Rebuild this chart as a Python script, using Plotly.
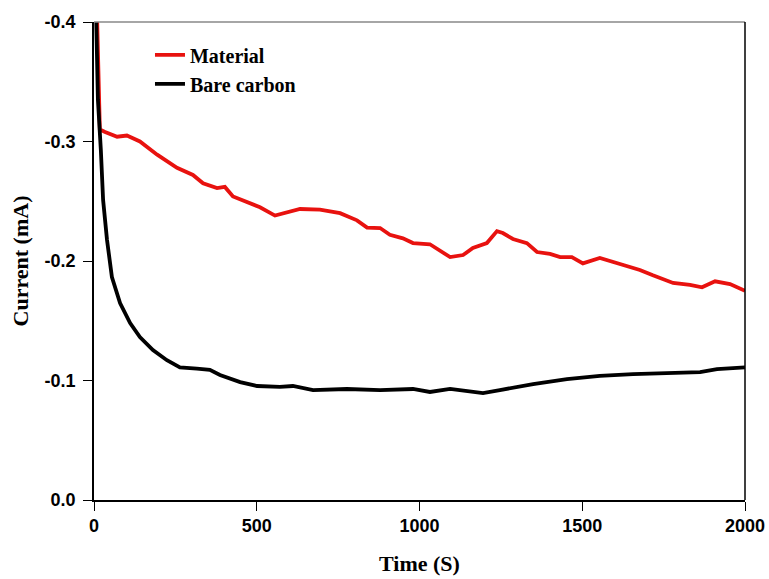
import plotly.graph_objects as go

# Material (red) curve: time (s), current (mA)
mat_t = [8, 12, 18, 34, 71, 101, 141, 194, 255, 304, 335, 378, 402, 427, 510, 556, 593, 633, 694,
         756, 808, 839, 879, 909, 949, 980, 1032, 1094, 1134, 1164, 1207, 1238, 1256, 1287, 1330,
         1361, 1401, 1432, 1468, 1502, 1554, 1585, 1637, 1677, 1717, 1779, 1831, 1868, 1908, 1954, 2000]
mat_i = [-0.42, -0.37, -0.310, -0.308, -0.304, -0.305, -0.300, -0.289, -0.278, -0.272, -0.265, -0.261,
         -0.262, -0.254, -0.245, -0.238, -0.241, -0.2435, -0.243, -0.240, -0.234, -0.228, -0.2276,
         -0.222, -0.219, -0.215, -0.214, -0.2033, -0.205, -0.211, -0.215, -0.225, -0.2234, -0.2184,
         -0.215, -0.2075, -0.206, -0.2033, -0.2033, -0.198, -0.2025, -0.200, -0.195, -0.1925, -0.188,
         -0.1816, -0.180, -0.178, -0.183, -0.1807, -0.175]

# Bare carbon (black) curve
bare_t = [3, 6, 12, 21, 28, 40, 55, 80, 111, 141, 181, 224, 264, 316, 356, 387, 449, 501, 571, 611,
          673, 777, 879, 980, 1032, 1094, 1195, 1247, 1349, 1453, 1554, 1656, 1760, 1862, 1914, 2000]
bare_i = [-0.45, -0.40, -0.335, -0.293, -0.251, -0.2176, -0.1866, -0.1648, -0.148, -0.1364, -0.1255,
          -0.117, -0.111, -0.110, -0.109, -0.1046, -0.0987, -0.0954, -0.0946, -0.0954, -0.092,
          -0.0929, -0.092, -0.0929, -0.0904, -0.0929, -0.0895, -0.092, -0.097, -0.1012, -0.1038,
          -0.1054, -0.1063, -0.107, -0.1096, -0.111]

x_ticks = [0, 500, 1000, 1500, 2000]
y_ticks = [0.0, -0.1, -0.2, -0.3, -0.4]
y_tick_labels = ["0.0", "-0.1", "-0.2", "-0.3", "-0.4"]

fig = go.Figure()
fig.add_trace(go.Scatter(x=mat_t, y=mat_i, mode="lines", name="Material",
                         line=dict(color="#e8120f", width=3.8)))
fig.add_trace(go.Scatter(x=bare_t, y=bare_i, mode="lines", name="Bare carbon",
                         line=dict(color="black", width=3.8)))

tick_font = dict(family="Liberation Sans, Arial", size=18, color="black", weight="bold")
title_font = dict(family="Liberation Serif, Times New Roman", size=22, color="black", weight="bold")

fig.update_layout(
    width=769, height=579,
    margin=dict(l=94, r=24, t=22, b=79, autoexpand=False),
    paper_bgcolor="white", plot_bgcolor="white",
    showlegend=True,
    legend=dict(x=0.086, y=0.972, xanchor="left", yanchor="top",
                bgcolor="rgba(0,0,0,0)", tracegroupgap=0,
                font=dict(family="Liberation Serif, Times New Roman", size=20, color="black", weight="bold")),
    xaxis=dict(range=[0, 2000], tickvals=x_ticks, ticks="outside", ticklen=9, tickwidth=1,
               tickcolor="black", showline=True, linecolor="black", linewidth=1.5,
               showgrid=False, zeroline=False, tickfont=tick_font, automargin=False,
               title=dict(text="Time (S)", font=title_font, standoff=20)),
    yaxis=dict(range=[0, -0.4], tickvals=y_ticks, ticktext=y_tick_labels, ticks="outside",
               ticklen=9, tickwidth=1, tickcolor="black", showline=True, linecolor="black",
               linewidth=1.5, showgrid=False, zeroline=False, tickfont=tick_font,
               ticklabelstandoff=4, automargin=False,
               title=dict(text="Current (mA)", font=title_font, standoff=10)),
    shapes=[
        dict(type="line", xref="paper", yref="paper", x0=0, x1=1, y0=1, y1=1,
             line=dict(color="#888888", width=1.5)),
        dict(type="line", xref="paper", yref="paper", x0=1, x1=1, y0=0, y1=1,
             line=dict(color="black", width=1.5)),
    ],
)

fig.write_html("out.html")
